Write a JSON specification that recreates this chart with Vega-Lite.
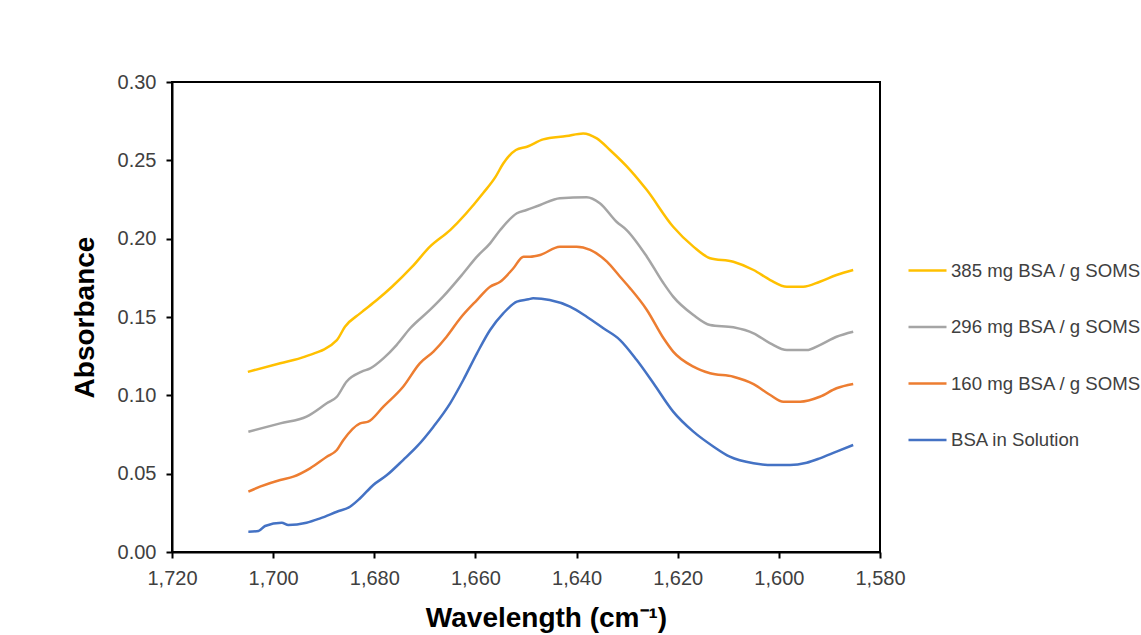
{
  "$schema": "https://vega.github.io/schema/vega-lite/v6.json",
  "autosize": {"type": "none"},
  "padding": {"left": 172, "top": 82, "right": 261, "bottom": 83},
  "width": 708,
  "height": 470,
  "background": "white",
  "config": {
    "font": "Liberation Sans",
    "view": {"stroke": "black", "strokeWidth": 2},
    "axis": {
      "domainColor": "black", "domainWidth": 2,
      "tickColor": "black", "tickWidth": 2, "tickSize": 6,
      "labelColor": "#404040", "labelFont": "Liberation Sans", "labelFontSize": 20,
      "titleColor": "black", "titleFont": "Liberation Sans", "titleFontWeight": "bold", "titleFontSize": 28,
      "grid": false
    }
  },
  "data": {"values": [
    {"series": "385 mg BSA / g SOMS", "wavelength": 1705, "absorbance": 0.115},
    {"series": "385 mg BSA / g SOMS", "wavelength": 1698.6, "absorbance": 0.1205},
    {"series": "385 mg BSA / g SOMS", "wavelength": 1693.7, "absorbance": 0.1247},
    {"series": "385 mg BSA / g SOMS", "wavelength": 1687.4, "absorbance": 0.1353},
    {"series": "385 mg BSA / g SOMS", "wavelength": 1685.8, "absorbance": 0.1438},
    {"series": "385 mg BSA / g SOMS", "wavelength": 1682.8, "absorbance": 0.1523},
    {"series": "385 mg BSA / g SOMS", "wavelength": 1679.5, "absorbance": 0.1608},
    {"series": "385 mg BSA / g SOMS", "wavelength": 1676.5, "absorbance": 0.1693},
    {"series": "385 mg BSA / g SOMS", "wavelength": 1672.5, "absorbance": 0.1821},
    {"series": "385 mg BSA / g SOMS", "wavelength": 1669, "absorbance": 0.1949},
    {"series": "385 mg BSA / g SOMS", "wavelength": 1665, "absorbance": 0.2055},
    {"series": "385 mg BSA / g SOMS", "wavelength": 1658.5, "absorbance": 0.229},
    {"series": "385 mg BSA / g SOMS", "wavelength": 1656, "absorbance": 0.2396},
    {"series": "385 mg BSA / g SOMS", "wavelength": 1654.5, "absorbance": 0.248},
    {"series": "385 mg BSA / g SOMS", "wavelength": 1652, "absorbance": 0.2566},
    {"series": "385 mg BSA / g SOMS", "wavelength": 1649.8, "absorbance": 0.2587},
    {"series": "385 mg BSA / g SOMS", "wavelength": 1646.6, "absorbance": 0.2634},
    {"series": "385 mg BSA / g SOMS", "wavelength": 1642, "absorbance": 0.2655},
    {"series": "385 mg BSA / g SOMS", "wavelength": 1638.7, "absorbance": 0.2672},
    {"series": "385 mg BSA / g SOMS", "wavelength": 1636, "absorbance": 0.264},
    {"series": "385 mg BSA / g SOMS", "wavelength": 1633.4, "absorbance": 0.2566},
    {"series": "385 mg BSA / g SOMS", "wavelength": 1629.4, "absorbance": 0.2438},
    {"series": "385 mg BSA / g SOMS", "wavelength": 1626.1, "absorbance": 0.231},
    {"series": "385 mg BSA / g SOMS", "wavelength": 1620.9, "absorbance": 0.2076},
    {"series": "385 mg BSA / g SOMS", "wavelength": 1616.9, "absorbance": 0.1949},
    {"series": "385 mg BSA / g SOMS", "wavelength": 1613.6, "absorbance": 0.1875},
    {"series": "385 mg BSA / g SOMS", "wavelength": 1609, "absorbance": 0.1853},
    {"series": "385 mg BSA / g SOMS", "wavelength": 1605, "absorbance": 0.18},
    {"series": "385 mg BSA / g SOMS", "wavelength": 1601.7, "absorbance": 0.1736},
    {"series": "385 mg BSA / g SOMS", "wavelength": 1598.4, "absorbance": 0.1693},
    {"series": "385 mg BSA / g SOMS", "wavelength": 1595.2, "absorbance": 0.1693},
    {"series": "385 mg BSA / g SOMS", "wavelength": 1591.9, "absorbance": 0.1725},
    {"series": "385 mg BSA / g SOMS", "wavelength": 1588.6, "absorbance": 0.1768},
    {"series": "385 mg BSA / g SOMS", "wavelength": 1585.3, "absorbance": 0.18},

    {"series": "296 mg BSA / g SOMS", "wavelength": 1704.9, "absorbance": 0.0768},
    {"series": "296 mg BSA / g SOMS", "wavelength": 1698.6, "absorbance": 0.0821},
    {"series": "296 mg BSA / g SOMS", "wavelength": 1693.4, "absorbance": 0.0864},
    {"series": "296 mg BSA / g SOMS", "wavelength": 1689.4, "absorbance": 0.0949},
    {"series": "296 mg BSA / g SOMS", "wavelength": 1687.4, "absorbance": 0.0991},
    {"series": "296 mg BSA / g SOMS", "wavelength": 1685.5, "absorbance": 0.1087},
    {"series": "296 mg BSA / g SOMS", "wavelength": 1682.5, "absorbance": 0.1151},
    {"series": "296 mg BSA / g SOMS", "wavelength": 1680.8, "absorbance": 0.1172},
    {"series": "296 mg BSA / g SOMS", "wavelength": 1678.2, "absorbance": 0.1236},
    {"series": "296 mg BSA / g SOMS", "wavelength": 1675.6, "absorbance": 0.1321},
    {"series": "296 mg BSA / g SOMS", "wavelength": 1672.9, "absorbance": 0.1428},
    {"series": "296 mg BSA / g SOMS", "wavelength": 1669, "absorbance": 0.1545},
    {"series": "296 mg BSA / g SOMS", "wavelength": 1666.4, "absorbance": 0.163},
    {"series": "296 mg BSA / g SOMS", "wavelength": 1662.4, "absorbance": 0.1779},
    {"series": "296 mg BSA / g SOMS", "wavelength": 1659.7, "absorbance": 0.1885},
    {"series": "296 mg BSA / g SOMS", "wavelength": 1657.1, "absorbance": 0.197},
    {"series": "296 mg BSA / g SOMS", "wavelength": 1655.1, "absorbance": 0.2055},
    {"series": "296 mg BSA / g SOMS", "wavelength": 1651.8, "absorbance": 0.2162},
    {"series": "296 mg BSA / g SOMS", "wavelength": 1649.9, "absorbance": 0.2183},
    {"series": "296 mg BSA / g SOMS", "wavelength": 1647.2, "absorbance": 0.2215},
    {"series": "296 mg BSA / g SOMS", "wavelength": 1643.3, "absorbance": 0.2258},
    {"series": "296 mg BSA / g SOMS", "wavelength": 1638, "absorbance": 0.2264},
    {"series": "296 mg BSA / g SOMS", "wavelength": 1635.4, "absorbance": 0.2226},
    {"series": "296 mg BSA / g SOMS", "wavelength": 1632.1, "absorbance": 0.2108},
    {"series": "296 mg BSA / g SOMS", "wavelength": 1630.1, "absorbance": 0.2055},
    {"series": "296 mg BSA / g SOMS", "wavelength": 1626.1, "absorbance": 0.1885},
    {"series": "296 mg BSA / g SOMS", "wavelength": 1622.8, "absorbance": 0.1715},
    {"series": "296 mg BSA / g SOMS", "wavelength": 1620.9, "absorbance": 0.163},
    {"series": "296 mg BSA / g SOMS", "wavelength": 1616.9, "absorbance": 0.1513},
    {"series": "296 mg BSA / g SOMS", "wavelength": 1613.6, "absorbance": 0.1449},
    {"series": "296 mg BSA / g SOMS", "wavelength": 1609, "absorbance": 0.1434},
    {"series": "296 mg BSA / g SOMS", "wavelength": 1605, "absorbance": 0.1396},
    {"series": "296 mg BSA / g SOMS", "wavelength": 1601.7, "absorbance": 0.1332},
    {"series": "296 mg BSA / g SOMS", "wavelength": 1598.4, "absorbance": 0.1289},
    {"series": "296 mg BSA / g SOMS", "wavelength": 1594.5, "absorbance": 0.1289},
    {"series": "296 mg BSA / g SOMS", "wavelength": 1591.9, "absorbance": 0.1321},
    {"series": "296 mg BSA / g SOMS", "wavelength": 1588.6, "absorbance": 0.1374},
    {"series": "296 mg BSA / g SOMS", "wavelength": 1585.3, "absorbance": 0.1406},

    {"series": "160 mg BSA / g SOMS", "wavelength": 1704.9, "absorbance": 0.0385},
    {"series": "160 mg BSA / g SOMS", "wavelength": 1702.6, "absorbance": 0.0417},
    {"series": "160 mg BSA / g SOMS", "wavelength": 1698.6, "absorbance": 0.046},
    {"series": "160 mg BSA / g SOMS", "wavelength": 1696, "absorbance": 0.0481},
    {"series": "160 mg BSA / g SOMS", "wavelength": 1692.7, "absorbance": 0.0534},
    {"series": "160 mg BSA / g SOMS", "wavelength": 1689.4, "absorbance": 0.0608},
    {"series": "160 mg BSA / g SOMS", "wavelength": 1687.4, "absorbance": 0.0651},
    {"series": "160 mg BSA / g SOMS", "wavelength": 1686.1, "absorbance": 0.0715},
    {"series": "160 mg BSA / g SOMS", "wavelength": 1682.8, "absorbance": 0.0821},
    {"series": "160 mg BSA / g SOMS", "wavelength": 1681.2, "absorbance": 0.0832},
    {"series": "160 mg BSA / g SOMS", "wavelength": 1678.2, "absorbance": 0.0928},
    {"series": "160 mg BSA / g SOMS", "wavelength": 1674.3, "absorbance": 0.1055},
    {"series": "160 mg BSA / g SOMS", "wavelength": 1671, "absorbance": 0.1204},
    {"series": "160 mg BSA / g SOMS", "wavelength": 1668.3, "absorbance": 0.1279},
    {"series": "160 mg BSA / g SOMS", "wavelength": 1665.7, "absorbance": 0.1374},
    {"series": "160 mg BSA / g SOMS", "wavelength": 1663, "absorbance": 0.1492},
    {"series": "160 mg BSA / g SOMS", "wavelength": 1659.7, "absorbance": 0.1608},
    {"series": "160 mg BSA / g SOMS", "wavelength": 1657.1, "absorbance": 0.1693},
    {"series": "160 mg BSA / g SOMS", "wavelength": 1655.1, "absorbance": 0.1725},
    {"series": "160 mg BSA / g SOMS", "wavelength": 1652.5, "absorbance": 0.1811},
    {"series": "160 mg BSA / g SOMS", "wavelength": 1650.5, "absorbance": 0.1885},
    {"series": "160 mg BSA / g SOMS", "wavelength": 1649.2, "absorbance": 0.1885},
    {"series": "160 mg BSA / g SOMS", "wavelength": 1647.2, "absorbance": 0.1896},
    {"series": "160 mg BSA / g SOMS", "wavelength": 1643.3, "absorbance": 0.1949},
    {"series": "160 mg BSA / g SOMS", "wavelength": 1640, "absorbance": 0.1949},
    {"series": "160 mg BSA / g SOMS", "wavelength": 1637.3, "absorbance": 0.1928},
    {"series": "160 mg BSA / g SOMS", "wavelength": 1634, "absorbance": 0.1853},
    {"series": "160 mg BSA / g SOMS", "wavelength": 1631.4, "absorbance": 0.1757},
    {"series": "160 mg BSA / g SOMS", "wavelength": 1629.4, "absorbance": 0.1683},
    {"series": "160 mg BSA / g SOMS", "wavelength": 1626.1, "absorbance": 0.1545},
    {"series": "160 mg BSA / g SOMS", "wavelength": 1622.8, "absorbance": 0.1364},
    {"series": "160 mg BSA / g SOMS", "wavelength": 1620.9, "absorbance": 0.1279},
    {"series": "160 mg BSA / g SOMS", "wavelength": 1616.9, "absorbance": 0.1183},
    {"series": "160 mg BSA / g SOMS", "wavelength": 1613.6, "absorbance": 0.1141},
    {"series": "160 mg BSA / g SOMS", "wavelength": 1609, "absorbance": 0.1119},
    {"series": "160 mg BSA / g SOMS", "wavelength": 1605, "absorbance": 0.1072},
    {"series": "160 mg BSA / g SOMS", "wavelength": 1601.7, "absorbance": 0.1002},
    {"series": "160 mg BSA / g SOMS", "wavelength": 1599.1, "absorbance": 0.0959},
    {"series": "160 mg BSA / g SOMS", "wavelength": 1595.8, "absorbance": 0.0959},
    {"series": "160 mg BSA / g SOMS", "wavelength": 1591.9, "absorbance": 0.0991},
    {"series": "160 mg BSA / g SOMS", "wavelength": 1588.6, "absorbance": 0.1045},
    {"series": "160 mg BSA / g SOMS", "wavelength": 1585.3, "absorbance": 0.1072},

    {"series": "BSA in Solution", "wavelength": 1704.9, "absorbance": 0.013},
    {"series": "BSA in Solution", "wavelength": 1702.9, "absorbance": 0.0134},
    {"series": "BSA in Solution", "wavelength": 1701.6, "absorbance": 0.0166},
    {"series": "BSA in Solution", "wavelength": 1698.3, "absorbance": 0.0187},
    {"series": "BSA in Solution", "wavelength": 1697, "absorbance": 0.0172},
    {"series": "BSA in Solution", "wavelength": 1693.4, "absorbance": 0.0187},
    {"series": "BSA in Solution", "wavelength": 1690.7, "absorbance": 0.0215},
    {"series": "BSA in Solution", "wavelength": 1687.4, "absorbance": 0.0257},
    {"series": "BSA in Solution", "wavelength": 1684.8, "absorbance": 0.0289},
    {"series": "BSA in Solution", "wavelength": 1682.8, "absorbance": 0.0343},
    {"series": "BSA in Solution", "wavelength": 1680.2, "absorbance": 0.0428},
    {"series": "BSA in Solution", "wavelength": 1677.5, "absorbance": 0.0491},
    {"series": "BSA in Solution", "wavelength": 1674.3, "absorbance": 0.0587},
    {"series": "BSA in Solution", "wavelength": 1671.6, "absorbance": 0.0672},
    {"series": "BSA in Solution", "wavelength": 1668.3, "absorbance": 0.08},
    {"series": "BSA in Solution", "wavelength": 1665, "absorbance": 0.0949},
    {"series": "BSA in Solution", "wavelength": 1662.4, "absorbance": 0.1098},
    {"series": "BSA in Solution", "wavelength": 1659.7, "absorbance": 0.1268},
    {"series": "BSA in Solution", "wavelength": 1657.1, "absorbance": 0.1417},
    {"series": "BSA in Solution", "wavelength": 1654.5, "absorbance": 0.1523},
    {"series": "BSA in Solution", "wavelength": 1651.8, "absorbance": 0.1598},
    {"series": "BSA in Solution", "wavelength": 1649.5, "absorbance": 0.1613},
    {"series": "BSA in Solution", "wavelength": 1648.6, "absorbance": 0.1619},
    {"series": "BSA in Solution", "wavelength": 1645.3, "absorbance": 0.1608},
    {"series": "BSA in Solution", "wavelength": 1641.3, "absorbance": 0.1566},
    {"series": "BSA in Solution", "wavelength": 1638, "absorbance": 0.1502},
    {"series": "BSA in Solution", "wavelength": 1634.7, "absorbance": 0.1428},
    {"series": "BSA in Solution", "wavelength": 1631.4, "absorbance": 0.1353},
    {"series": "BSA in Solution", "wavelength": 1628.1, "absorbance": 0.1225},
    {"series": "BSA in Solution", "wavelength": 1624.8, "absorbance": 0.1077},
    {"series": "BSA in Solution", "wavelength": 1620.9, "absorbance": 0.0896},
    {"series": "BSA in Solution", "wavelength": 1616.9, "absorbance": 0.0768},
    {"series": "BSA in Solution", "wavelength": 1612.9, "absorbance": 0.0672},
    {"series": "BSA in Solution", "wavelength": 1609.7, "absorbance": 0.0608},
    {"series": "BSA in Solution", "wavelength": 1605, "absorbance": 0.0566},
    {"series": "BSA in Solution", "wavelength": 1601.1, "absorbance": 0.0555},
    {"series": "BSA in Solution", "wavelength": 1597.8, "absorbance": 0.0555},
    {"series": "BSA in Solution", "wavelength": 1594.5, "absorbance": 0.057},
    {"series": "BSA in Solution", "wavelength": 1591.9, "absorbance": 0.0598},
    {"series": "BSA in Solution", "wavelength": 1588.6, "absorbance": 0.0641},
    {"series": "BSA in Solution", "wavelength": 1585.3, "absorbance": 0.0683}
  ]},
  "mark": {"type": "line", "strokeWidth": 2.5, "interpolate": "monotone"},
  "encoding": {
    "x": {
      "field": "wavelength", "type": "quantitative",
      "scale": {"domain": [1580, 1720], "reverse": true, "nice": false, "zero": false},
      "axis": {"values": [1580, 1600, 1620, 1640, 1660, 1680, 1700, 1720], "format": ",.0f", "labelOverlap": false, "labelFlush": false, "labelPadding": 10, "titlePadding": 16, "titleX": 374, "title": "Wavelength (cm⁻¹)"}
    },
    "y": {
      "field": "absorbance", "type": "quantitative",
      "scale": {"domain": [0, 0.3], "nice": false},
      "axis": {"values": [0, 0.05, 0.1, 0.15, 0.2, 0.25, 0.3], "format": ".2f", "labelOverlap": false, "labelFlush": false, "labelPadding": 10, "titlePadding": 18, "title": "Absorbance"}
    },
    "color": {
      "field": "series", "type": "nominal",
      "scale": {
        "domain": ["385 mg BSA / g SOMS", "296 mg BSA / g SOMS", "160 mg BSA / g SOMS", "BSA in Solution"],
        "range": ["#FFC000", "#A5A5A5", "#ED7D31", "#4472C4"]
      },
      "legend": {
        "title": null, "orient": "none", "legendX": 735, "legendY": 168,
        "symbolType": "stroke", "symbolSize": 1444, "symbolStrokeWidth": 2.5,
        "labelFont": "Liberation Sans", "labelFontSize": 18.6, "labelColor": "#404040",
        "labelOffset": 3, "rowPadding": 25.5, "labelLimit": 400
      }
    }
  }
}
